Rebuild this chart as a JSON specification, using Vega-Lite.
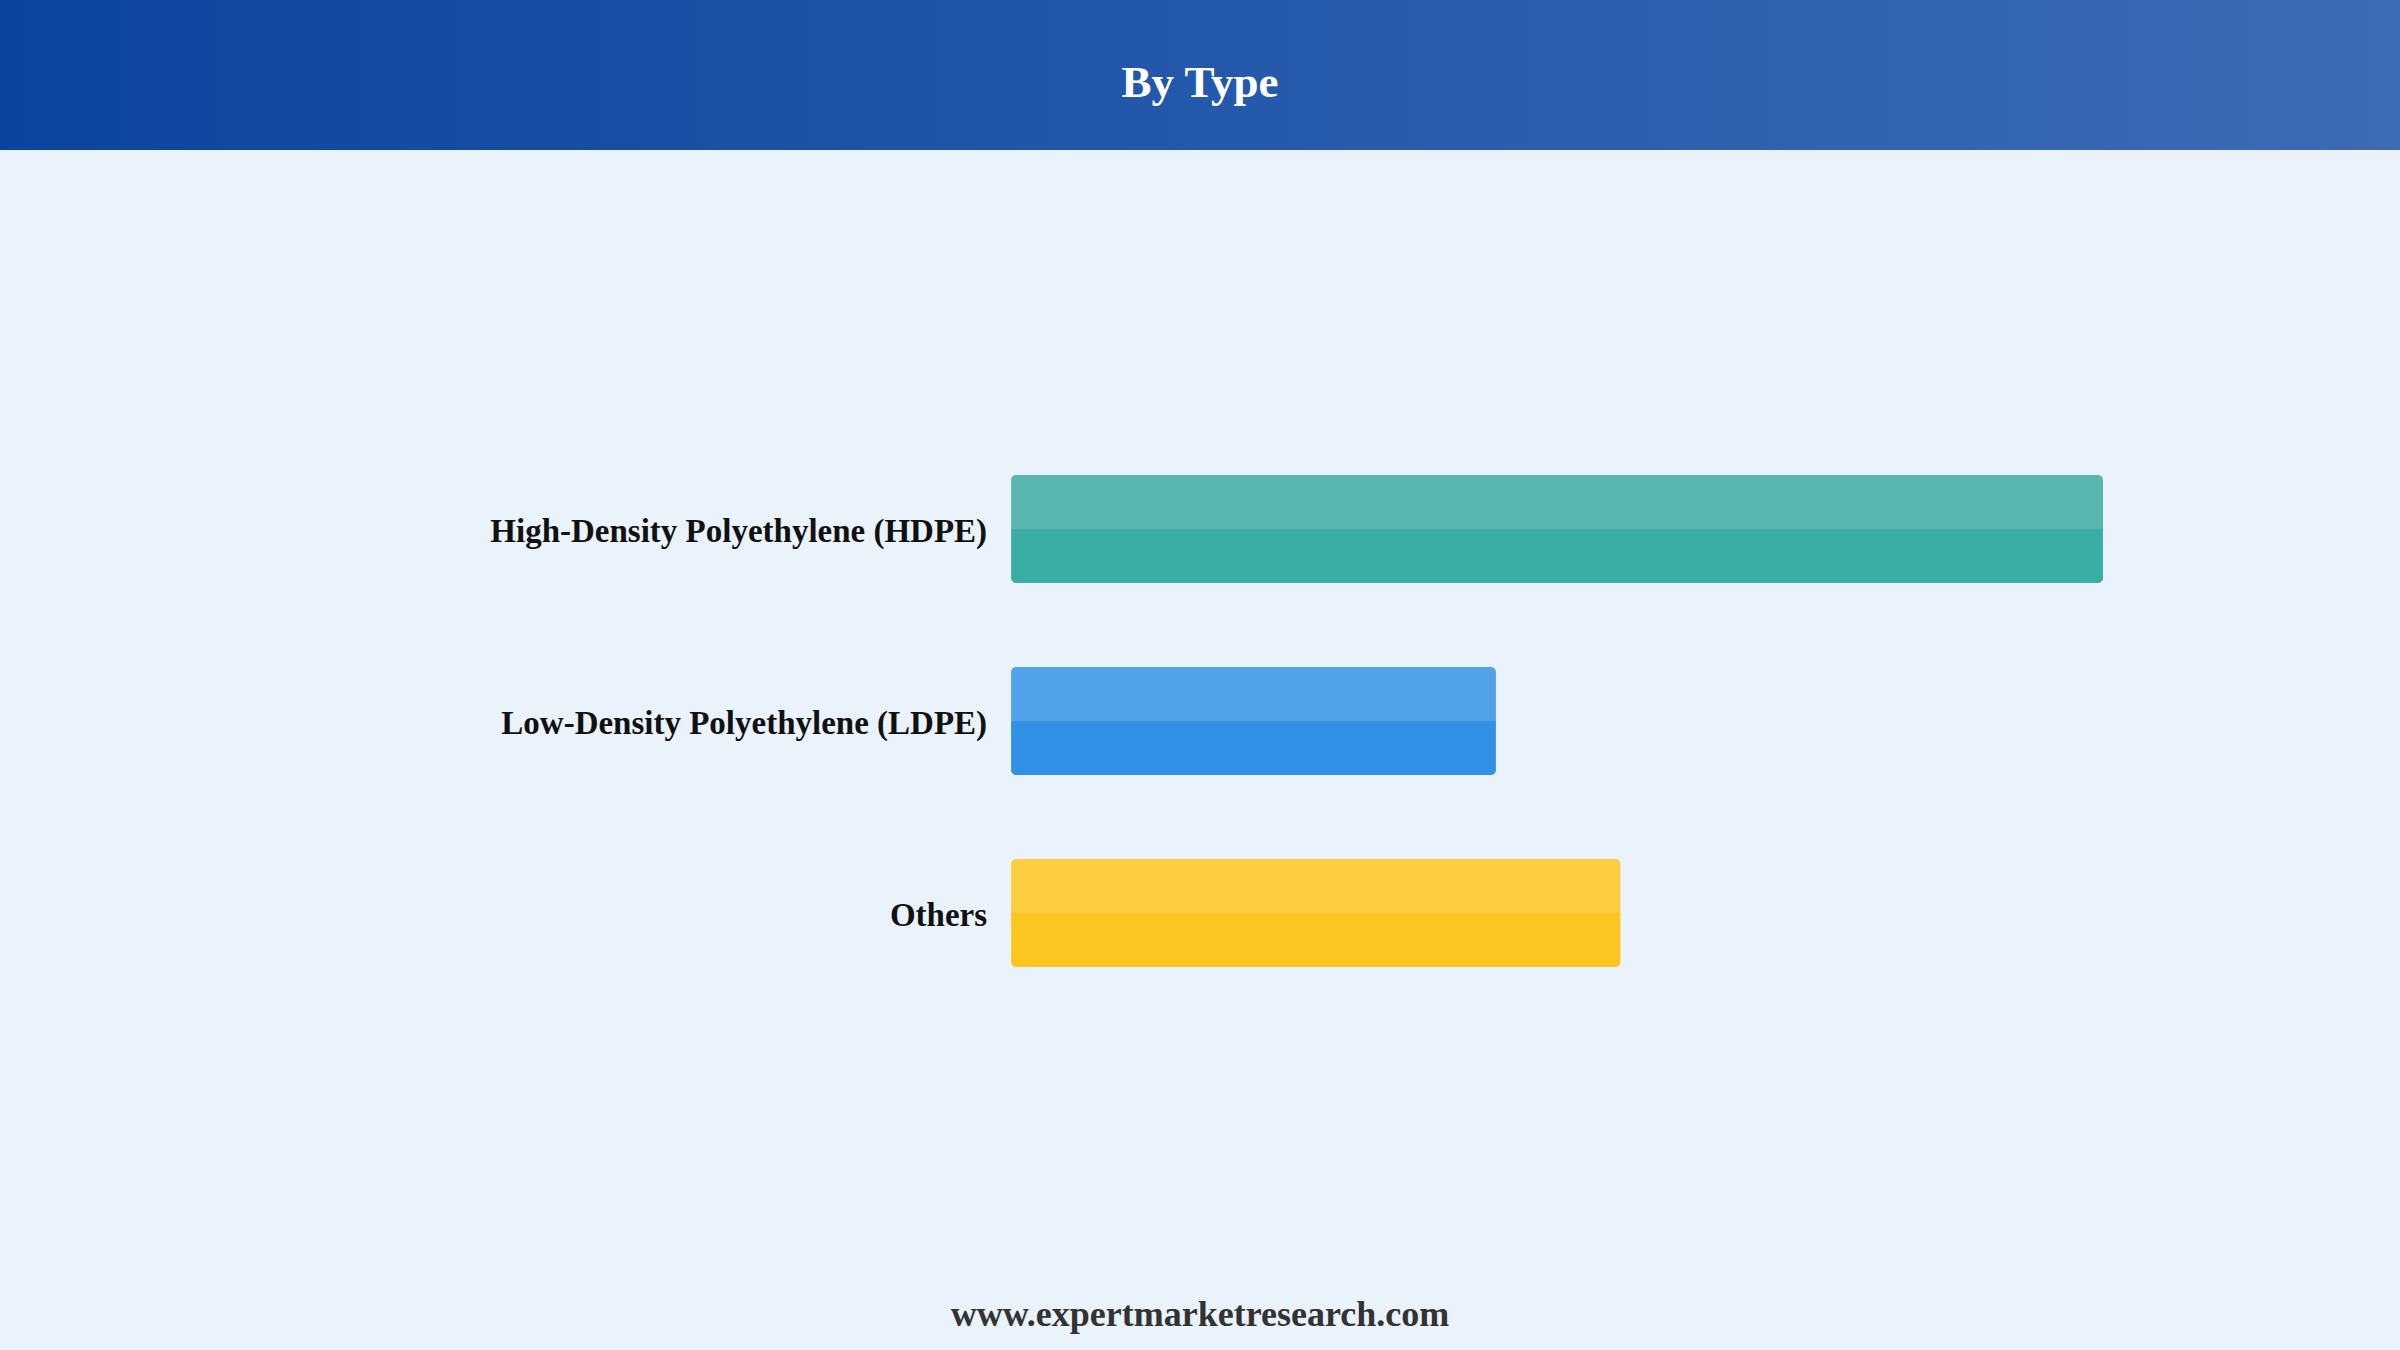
{
  "$schema": "https://vega.github.io/schema/vega-lite/v6.json",
  "background": "#eaf2fc",
  "padding": 0,
  "spacing": 0,
  "config": {
    "view": {"stroke": null},
    "font": "Liberation Serif"
  },
  "datasets": {
    "shares": [
      {"type": "High-Density Polyethylene (HDPE)", "share": 50.0},
      {"type": "Low-Density Polyethylene (LDPE)", "share": 22.2},
      {"type": "Others", "share": 27.9}
    ]
  },
  "vconcat": [
    {
      "width": 2400,
      "height": 150,
      "view": {
        "stroke": null,
        "fill": {
          "gradient": "linear",
          "x1": 0, "y1": 0, "x2": 1, "y2": 0,
          "stops": [
            {"offset": 0, "color": "#0b44a0"},
            {"offset": 1, "color": "#3d6cb5"}
          ]
        }
      },
      "data": {"values": [{"title": "By Type"}]},
      "mark": {
        "type": "text",
        "fontSize": 45,
        "fontWeight": "bold",
        "font": "Liberation Serif",
        "color": "#ffffff",
        "align": "center",
        "baseline": "alphabetic",
        "dy": 22
      },
      "encoding": {
        "text": {"field": "title", "type": "nominal"}
      }
    },
    {
      "width": 2400,
      "height": 1138,
      "data": {"name": "shares"},
      "encoding": {
        "y": {
          "field": "type",
          "type": "nominal",
          "sort": null,
          "axis": null,
          "scale": {"paddingInner": 0.4375, "paddingOuter": 1, "range": [133, 1009]}
        }
      },
      "layer": [
        {
          "mark": {"type": "bar", "cornerRadius": 5},
          "encoding": {
            "x": {
              "field": "share",
              "type": "quantitative",
              "axis": null,
              "scale": {"domain": [-46.3, 63.6], "nice": false, "zero": false}
            },
            "x2": {"datum": 0},
            "fill": {
              "condition": [
                {
                  "test": "datum.type === 'High-Density Polyethylene (HDPE)'",
                  "value": {
                    "gradient": "linear",
                    "x1": 0, "y1": 0, "x2": 0, "y2": 1,
                    "stops": [
                      {"offset": 0, "color": "#58b8b0"},
                      {"offset": 0.5, "color": "#58b8b0"},
                      {"offset": 0.5, "color": "#3aada5"},
                      {"offset": 1, "color": "#3aada5"}
                    ]
                  }
                },
                {
                  "test": "datum.type === 'Low-Density Polyethylene (LDPE)'",
                  "value": {
                    "gradient": "linear",
                    "x1": 0, "y1": 0, "x2": 0, "y2": 1,
                    "stops": [
                      {"offset": 0, "color": "#52a2ea"},
                      {"offset": 0.5, "color": "#52a2ea"},
                      {"offset": 0.5, "color": "#3191e6"},
                      {"offset": 1, "color": "#3191e6"}
                    ]
                  }
                }
              ],
              "value": {
                "gradient": "linear",
                "x1": 0, "y1": 0, "x2": 0, "y2": 1,
                "stops": [
                  {"offset": 0, "color": "#fecd42"},
                  {"offset": 0.5, "color": "#fecd42"},
                  {"offset": 0.5, "color": "#fcc520"},
                  {"offset": 1, "color": "#fcc520"}
                ]
              }
            }
          }
        },
        {
          "mark": {
            "type": "text",
            "align": "right",
            "baseline": "middle",
            "dx": -24,
            "dy": 3,
            "fontSize": 33,
            "fontWeight": "bold",
            "font": "Liberation Serif",
            "color": "#111111"
          },
          "encoding": {
            "x": {"datum": 0, "type": "quantitative"},
            "text": {"field": "type", "type": "nominal"}
          }
        }
      ]
    },
    {
      "width": 2400,
      "height": 62,
      "data": {"values": [{"site": "www.expertmarketresearch.com"}]},
      "mark": {
        "type": "text",
        "fontSize": 36,
        "fontWeight": "bold",
        "font": "Liberation Serif",
        "color": "#333333",
        "align": "center",
        "baseline": "alphabetic",
        "dy": 7
      },
      "encoding": {
        "text": {"field": "site", "type": "nominal"}
      }
    }
  ]
}
